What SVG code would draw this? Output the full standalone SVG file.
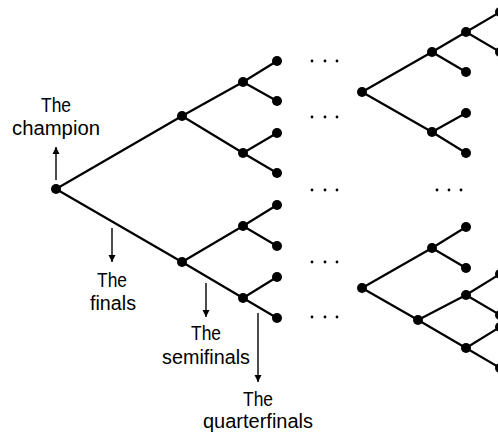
<svg xmlns="http://www.w3.org/2000/svg" width="498" height="433" viewBox="0 0 498 433">
<style>
.e{stroke:#000;stroke-width:2.2;fill:none;stroke-linecap:round}
.a{stroke:#000;stroke-width:1.4;fill:none}
.n{fill:#000}
.d{fill:#000}
.t{font-family:"Liberation Sans",Arial,sans-serif;font-size:19.5px;fill:#000;text-anchor:middle}
</style>
<defs>
<marker id="ah" viewBox="0 0 10 10" refX="10" refY="5" markerWidth="7" markerHeight="9" markerUnits="userSpaceOnUse" orient="auto">
<path d="M0,0 L10,5 L0,10 z" fill="#000"/>
</marker>
</defs>
<g id="connectors">
<path class="e" d="M56,189 L182,116 M56,189 L182,262 M182,116 L243,82 M182,116 L243,153 M182,262 L243,226 M182,262 L243,298 M243,82 L277,61 M243,82 L277,101 M243,153 L277,133 M243,153 L277,173 M243,226 L277,205 M243,226 L277,246 M243,298 L277,277 M243,298 L277,318"/>
<path class="e" d="M362,92 L432,52 M362,92 L432,132 M432,52 L466,32 M432,52 L466,72 M432,132 L466,113 M432,132 L466,153 M466,32 L500,12 M466,32 L500,52"/>
<path class="e" d="M362,288 L432,248 M362,288 L418,320 M432,248 L466,227 M432,248 L466,268 M418,320 L466,295 M418,320 L466,348 M466,295 L500,274 M466,295 L500,315 M466,348 L500,327 M466,348 L500,368"/>
<line class="a" x1="56" y1="180" x2="56" y2="147" marker-end="url(#ah)"/>
<line class="a" x1="112" y1="228" x2="112" y2="262" marker-end="url(#ah)"/>
<line class="a" x1="206" y1="283" x2="206" y2="317" marker-end="url(#ah)"/>
<line class="a" x1="258" y1="313" x2="258" y2="382" marker-end="url(#ah)"/>
</g>
<g id="nodes-left">
<circle id="root" class="n" cx="56" cy="189" r="5"/>
<circle id="nA" class="n" cx="182" cy="116" r="5"/>
<circle id="nB" class="n" cx="182" cy="262" r="5"/>
<circle id="nA1" class="n" cx="243" cy="82" r="5"/>
<circle id="nA2" class="n" cx="243" cy="153" r="5"/>
<circle id="nB1" class="n" cx="243" cy="226" r="5"/>
<circle id="nB2" class="n" cx="243" cy="298" r="5"/>
<circle id="l1" class="n" cx="277" cy="61" r="5"/>
<circle id="l2" class="n" cx="277" cy="101" r="5"/>
<circle id="l3" class="n" cx="277" cy="133" r="5"/>
<circle id="l4" class="n" cx="277" cy="173" r="5"/>
<circle id="l5" class="n" cx="277" cy="205" r="5"/>
<circle id="l6" class="n" cx="277" cy="246" r="5"/>
<circle id="l7" class="n" cx="277" cy="277" r="5"/>
<circle id="l8" class="n" cx="277" cy="318" r="5"/>
</g>
<g id="nodes-right-top">
<circle id="rt" class="n" cx="362" cy="92" r="5"/>
<circle id="nC" class="n" cx="432" cy="52" r="5"/>
<circle id="nD" class="n" cx="432" cy="132" r="5"/>
<circle id="nC1" class="n" cx="466" cy="32" r="5"/>
<circle id="nC2" class="n" cx="466" cy="72" r="5"/>
<circle id="nD1" class="n" cx="466" cy="113" r="5"/>
<circle id="nD2" class="n" cx="466" cy="153" r="5"/>
<circle id="nC1a" class="n" cx="500" cy="12" r="5"/>
<circle id="nC1b" class="n" cx="500" cy="52" r="5"/>
</g>
<g id="nodes-right-bottom">
<circle id="rb" class="n" cx="362" cy="288" r="5"/>
<circle id="nE" class="n" cx="432" cy="248" r="5"/>
<circle id="nF" class="n" cx="418" cy="320" r="5"/>
<circle id="nE1" class="n" cx="466" cy="227" r="5"/>
<circle id="nE2" class="n" cx="466" cy="268" r="5"/>
<circle id="nF1" class="n" cx="466" cy="295" r="5"/>
<circle id="nF2" class="n" cx="466" cy="348" r="5"/>
<circle id="nF1a" class="n" cx="500" cy="274" r="5"/>
<circle id="nF1b" class="n" cx="500" cy="315" r="5"/>
<circle id="nF2a" class="n" cx="500" cy="327" r="5"/>
<circle id="nF2b" class="n" cx="500" cy="368" r="5"/>
</g>
<g id="ellipses">
<circle class="d" cx="312" cy="61" r="1.4"/><circle class="d" cx="325" cy="61" r="1.4"/><circle class="d" cx="337" cy="61" r="1.4"/>
<circle class="d" cx="312" cy="117" r="1.4"/><circle class="d" cx="325" cy="117" r="1.4"/><circle class="d" cx="337" cy="117" r="1.4"/>
<circle class="d" cx="312" cy="190" r="1.4"/><circle class="d" cx="325" cy="190" r="1.4"/><circle class="d" cx="337" cy="190" r="1.4"/>
<circle class="d" cx="312" cy="262" r="1.4"/><circle class="d" cx="325" cy="262" r="1.4"/><circle class="d" cx="337" cy="262" r="1.4"/>
<circle class="d" cx="312" cy="317" r="1.4"/><circle class="d" cx="325" cy="317" r="1.4"/><circle class="d" cx="337" cy="317" r="1.4"/>
<circle class="d" cx="437" cy="190" r="1.4"/><circle class="d" cx="449" cy="190" r="1.4"/><circle class="d" cx="461" cy="190" r="1.4"/>
</g>
<g id="labels">
<text class="t" x="56" y="112" textLength="30" lengthAdjust="spacingAndGlyphs">The</text>
<text class="t" x="56" y="135" textLength="88" lengthAdjust="spacingAndGlyphs">champion</text>
<text class="t" x="112" y="287" textLength="30" lengthAdjust="spacingAndGlyphs">The</text>
<text class="t" x="113" y="310" textLength="46" lengthAdjust="spacingAndGlyphs">finals</text>
<text class="t" x="206" y="340" textLength="30" lengthAdjust="spacingAndGlyphs">The</text>
<text class="t" x="206" y="364" textLength="88" lengthAdjust="spacingAndGlyphs">semifinals</text>
<text class="t" x="258" y="406" textLength="30" lengthAdjust="spacingAndGlyphs">The</text>
<text class="t" x="258" y="428" textLength="110" lengthAdjust="spacingAndGlyphs">quarterfinals</text>
</g>
</svg>
